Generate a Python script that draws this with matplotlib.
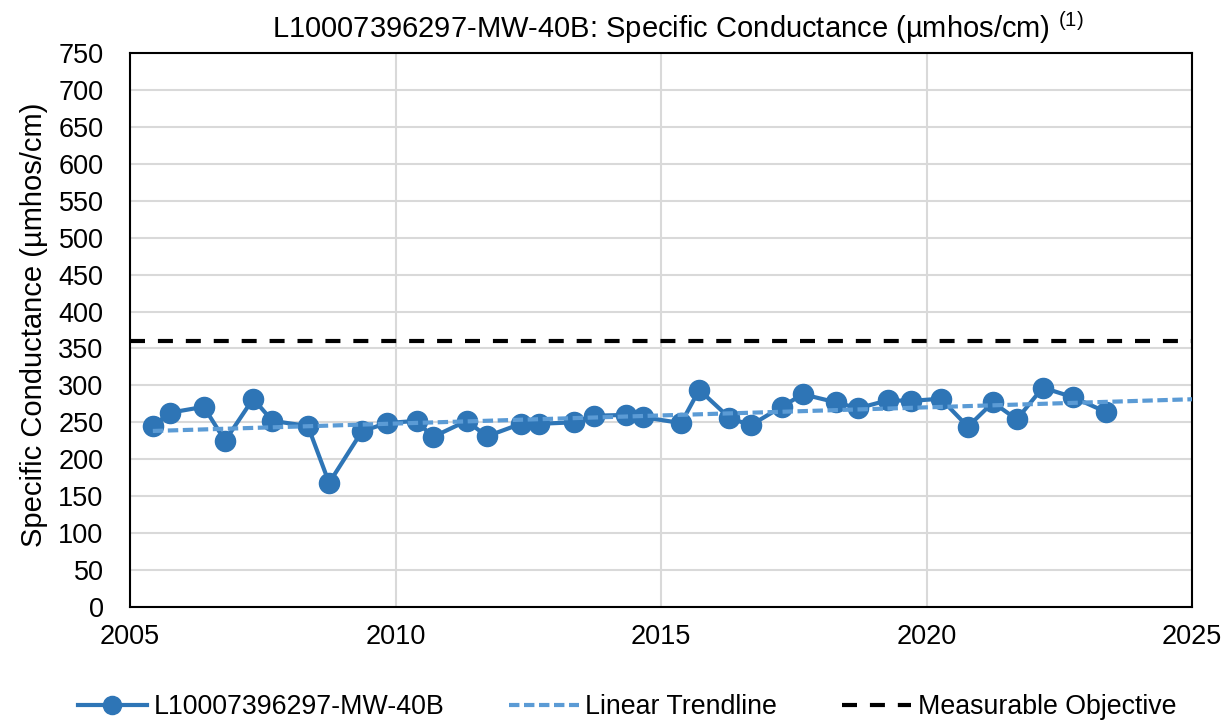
import matplotlib
matplotlib.use('Agg')
import matplotlib.pyplot as plt
import numpy as np

# data (decimal years, umhos/cm)
years = [2005.43, 2005.75, 2006.39, 2006.79, 2007.32, 2007.68, 2008.35, 2008.75,
         2009.37, 2009.84, 2010.40, 2010.70, 2011.34, 2011.72, 2012.36, 2012.70,
         2013.36, 2013.74, 2014.34, 2014.66, 2015.38, 2015.72, 2016.29, 2016.69,
         2017.27, 2017.67, 2018.30, 2018.71, 2019.28, 2019.71, 2020.27, 2020.78,
         2021.25, 2021.70, 2022.19, 2022.76, 2023.38]
conductance = [245, 263, 271, 225, 282, 252, 245, 168,
               238, 249, 252, 230, 252, 231, 248, 248,
               250, 259, 260, 257, 249, 294, 256, 246,
               271, 288, 277, 269, 280, 279, 282, 244,
               277, 254, 297, 284, 264]
objective = 360
series_name = 'L10007396297-MW-40B'
title = 'L10007396297-MW-40B: Specific Conductance (µmhos/cm)'

plt.rcParams['font.family'] = ['Liberation Sans', 'DejaVu Sans']
plt.rcParams['mathtext.fontset'] = 'custom'
plt.rcParams['mathtext.rm'] = 'Liberation Sans'

fig = plt.figure(figsize=(12.32, 7.21), dpi=100)
ax = fig.add_axes([130/1232, 1 - 607/721, (1192-130)/1232, (607-53)/721])

# linear trend, extended to end of axis
coef = np.polyfit(years, conductance, 1)
tx = np.array([years[0], 2025])
ax.plot(tx, np.polyval(coef, tx), color='#5B9BD5', lw=3, ls=(0, (2.5, 1.1)),
        zorder=4, label='Linear Trendline')
ax.plot(years, conductance, color='#2E75B6', lw=3, marker='o', ms=14.5,
        zorder=3, label=series_name)
ax.axhline(objective, color='black', lw=3, ls=(0, (3.6, 3.1)), zorder=5,
           label='Measurable Objective')

ax.set_xlim(2005, 2025)
ax.set_ylim(0, 750)
ax.set_xticks(range(2005, 2026, 5))
ax.set_yticks(range(0, 751, 50))
ax.tick_params(labelsize=19.5, length=0)
ax.tick_params(axis='x', pad=12)
ax.tick_params(axis='y', pad=19)
ax.grid(color='#D9D9D9', lw=1.5)
ax.set_axisbelow(True)
for s in ax.spines.values():
    s.set_color('black')
    s.set_linewidth(1.5)

ax.set_ylabel('Specific Conductance (µmhos/cm)', fontsize=21)
ax.yaxis.set_label_coords(-0.077, 0.51)
fig.text(0.55, 0.962, title + r' $^{(1)}$', ha='center', va='center', fontsize=21)

h, l = ax.get_legend_handles_labels()
order = [1, 0, 2]
fig.legend([h[i] for i in order], [l[i] for i in order], loc='center',
           bbox_to_anchor=(0.509, 0.019), ncol=3, frameon=False, fontsize=19.3,
           handlelength=2.6, columnspacing=2.4, handletextpad=0.25, markerscale=0.9)

fig.savefig('out.png', dpi=100)
